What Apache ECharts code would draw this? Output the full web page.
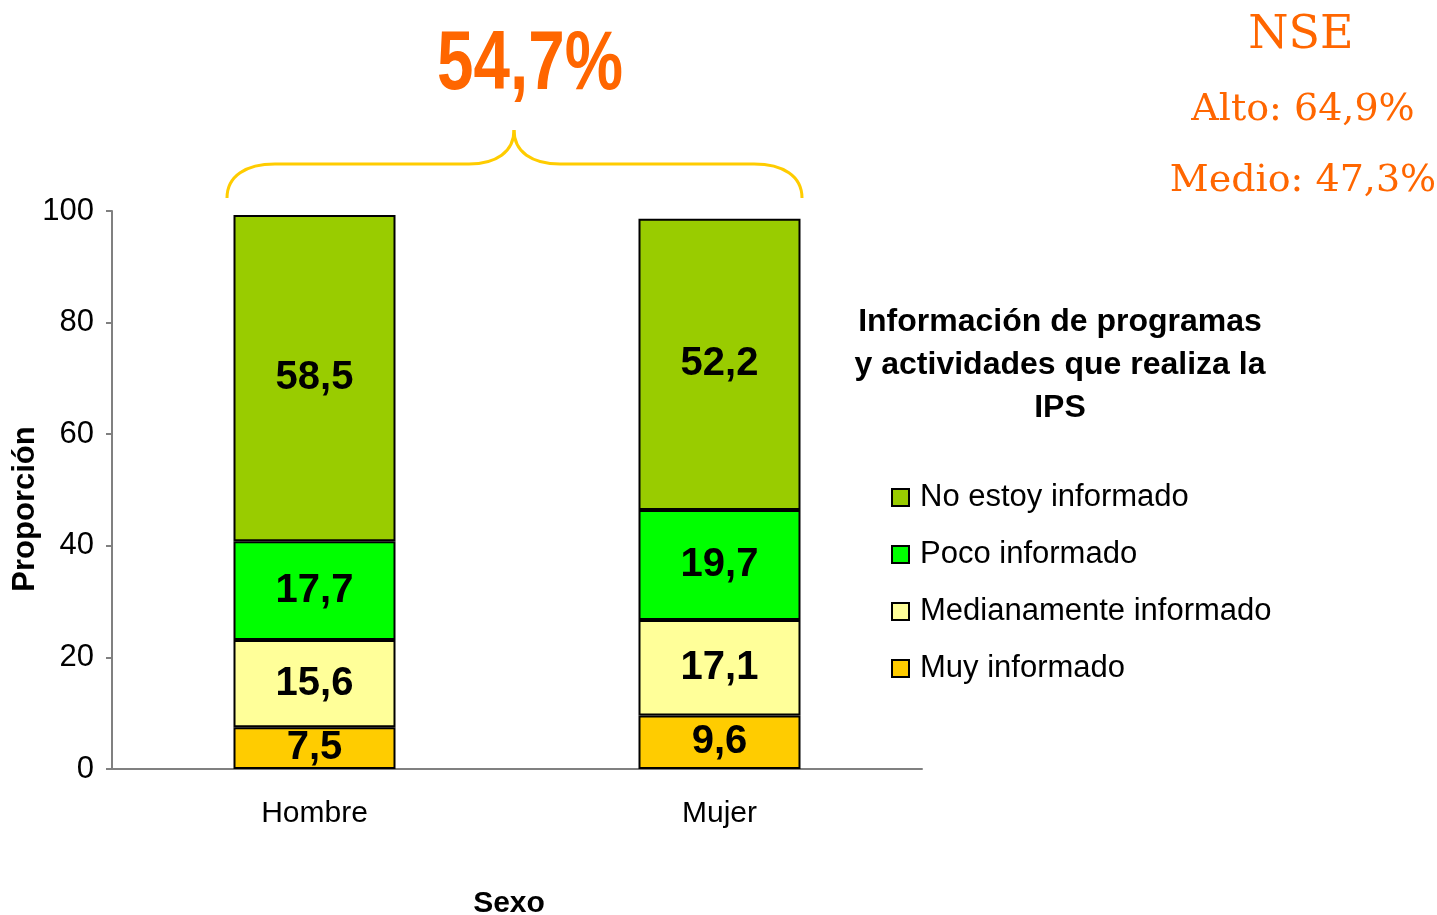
<!DOCTYPE html>
<html>
<head>
<meta charset="utf-8">
<script src="https://cdn.jsdelivr.net/npm/echarts@6/dist/echarts.min.js"></script>
<style>
  html, body { margin: 0; padding: 0; background: #fff; }
  #chart { width: 1437px; height: 915px; }
</style>
</head>
<body>
<div id="chart"></div>
<script>
// categorias y valores (porcentajes)
var categorias = ['Hombre', 'Mujer'];
var muyInformado = [7.5, 9.6];
var medianamenteInformado = [15.6, 17.1];
var pocoInformado = [17.7, 19.7];
var noInformado = [58.5, 52.2];
var yTicks = [0, 20, 40, 60, 80, 100];

var fuente = '"Liberation Sans", Arial, sans-serif';
var amarillo = '#FFCC00';

function serie(nombre, datos, color) {
	return {
		name: nombre,
		type: 'bar',
		stack: 'total',
		barWidth: '40%',
		data: datos,
		itemStyle: { color: color, borderColor: '#000', borderWidth: 2 },
		label: {
			show: true,
			position: 'inside',
			color: '#000',
			fontFamily: fuente,
			fontWeight: 'bold',
			fontSize: 40,
			formatter: function(p) { return String(p.value).replace('.', ','); }
		}
	};
}

// tramos de la llave amarilla
function curva(x1, y1, c1x, c1y, c2x, c2y, x2, y2) {
	return {
		type: 'bezierCurve',
		shape: { x1: x1, y1: y1, cpx1: c1x, cpy1: c1y, cpx2: c2x, cpy2: c2y, x2: x2, y2: y2 },
		style: { fill: null, stroke: amarillo, lineWidth: 3 }
	};
}
function recta(x1, y1, x2, y2) {
	return {
		type: 'line',
		shape: { x1: x1, y1: y1, x2: x2, y2: y2 },
		style: { stroke: amarillo, lineWidth: 3 }
	};
}

var myChart = echarts.init(document.getElementById('chart'));
var option = {
	backgroundColor: '#fff',
	animation: false,
	title: [
		{
			text: 'NSE', left: 1296, top: 8, textAlign: 'center',
			textStyle: { color: '#FF6600', fontSize: 46, fontWeight: 'normal', fontFamily: '"DejaVu Serif", serif' }
		},
		{
			text: 'Alto: 64,9%', left: 1298, top: 86, textAlign: 'center',
			textStyle: { color: '#FF6600', fontSize: 38, fontWeight: 'normal', fontFamily: '"DejaVu Serif", serif' }
		},
		{
			text: 'Medio: 47,3%', left: 1298, top: 157, textAlign: 'center',
			textStyle: { color: '#FF6600', fontSize: 38, fontWeight: 'normal', fontFamily: '"DejaVu Serif", serif' }
		},
		{
			text: 'Información de programas\ny actividades que realiza la\nIPS',
			left: 1055, top: 296, textAlign: 'center',
			textStyle: { color: '#000', fontSize: 32, fontWeight: 'bold', fontFamily: fuente, lineHeight: 43, align: 'center' }
		}
	],
	legend: {
		orient: 'vertical',
		left: 886,
		top: 477,
		icon: 'rect',
		itemWidth: 17,
		itemHeight: 17,
		itemGap: 26,
		data: ['No estoy informado', 'Poco informado', 'Medianamente informado', 'Muy informado'],
		textStyle: { color: '#000', fontSize: 31, fontFamily: fuente, padding: [0, 0, 0, 6] }
	},
	grid: { left: 112, right: 515, top: 211, bottom: 146, containLabel: false, outerBoundsMode: 'none' },
	xAxis: {
		type: 'category',
		data: categorias,
		name: 'Sexo',
		nameLocation: 'middle',
		nameGap: 120,
		nameTextStyle: { color: '#000', fontSize: 30, fontWeight: 'bold', fontFamily: fuente, padding: [0, 16, 0, 0] },
		axisLine: { lineStyle: { color: '#808080', width: 2 } },
		axisTick: { length: 8, lineStyle: { color: '#808080', width: 2 } },
		axisLabel: { color: '#000', fontSize: 30, fontFamily: fuente, margin: 30 }
	},
	yAxis: {
		type: 'value',
		min: yTicks[0],
		max: yTicks[yTicks.length - 1],
		interval: 20,
		name: 'Proporción',
		nameLocation: 'middle',
		nameRotate: 90,
		nameGap: 71,
		nameMoveOverlap: false,
		nameTextStyle: { color: '#000', fontSize: 31, fontWeight: 'bold', fontFamily: fuente, padding: [0, 38, 0, 0] },
		splitLine: { show: false },
		axisLine: { show: true, lineStyle: { color: '#808080', width: 2 } },
		axisTick: { show: true, length: 6, lineStyle: { color: '#808080', width: 2 } },
		axisLabel: { color: '#000', fontSize: 31, fontFamily: fuente, margin: 18 }
	},
	graphic: [
		{
			type: 'text',
			x: 530, y: 66,
			scaleX: 0.78,
			style: {
				text: '54,7%', fill: '#FF6600', fontSize: 84, fontWeight: 'bold',
				fontFamily: fuente, textAlign: 'center', textVerticalAlign: 'middle'
			}
		},
		curva(227, 198, 227, 176, 246, 164, 275, 164),
		recta(275, 164, 469, 164),
		curva(469, 164, 496, 164, 514, 152, 514, 130),
		curva(514, 130, 514, 152, 532, 164, 560, 164),
		recta(560, 164, 754, 164),
		curva(754, 164, 783, 164, 802, 176, 802, 198)
	],
	series: [
		serie('Muy informado', muyInformado, '#FFCC00'),
		serie('Medianamente informado', medianamenteInformado, '#FFFF99'),
		serie('Poco informado', pocoInformado, '#00FF00'),
		serie('No estoy informado', noInformado, '#99CC00')
	]
};
myChart.setOption(option);
</script>
</body>
</html>
